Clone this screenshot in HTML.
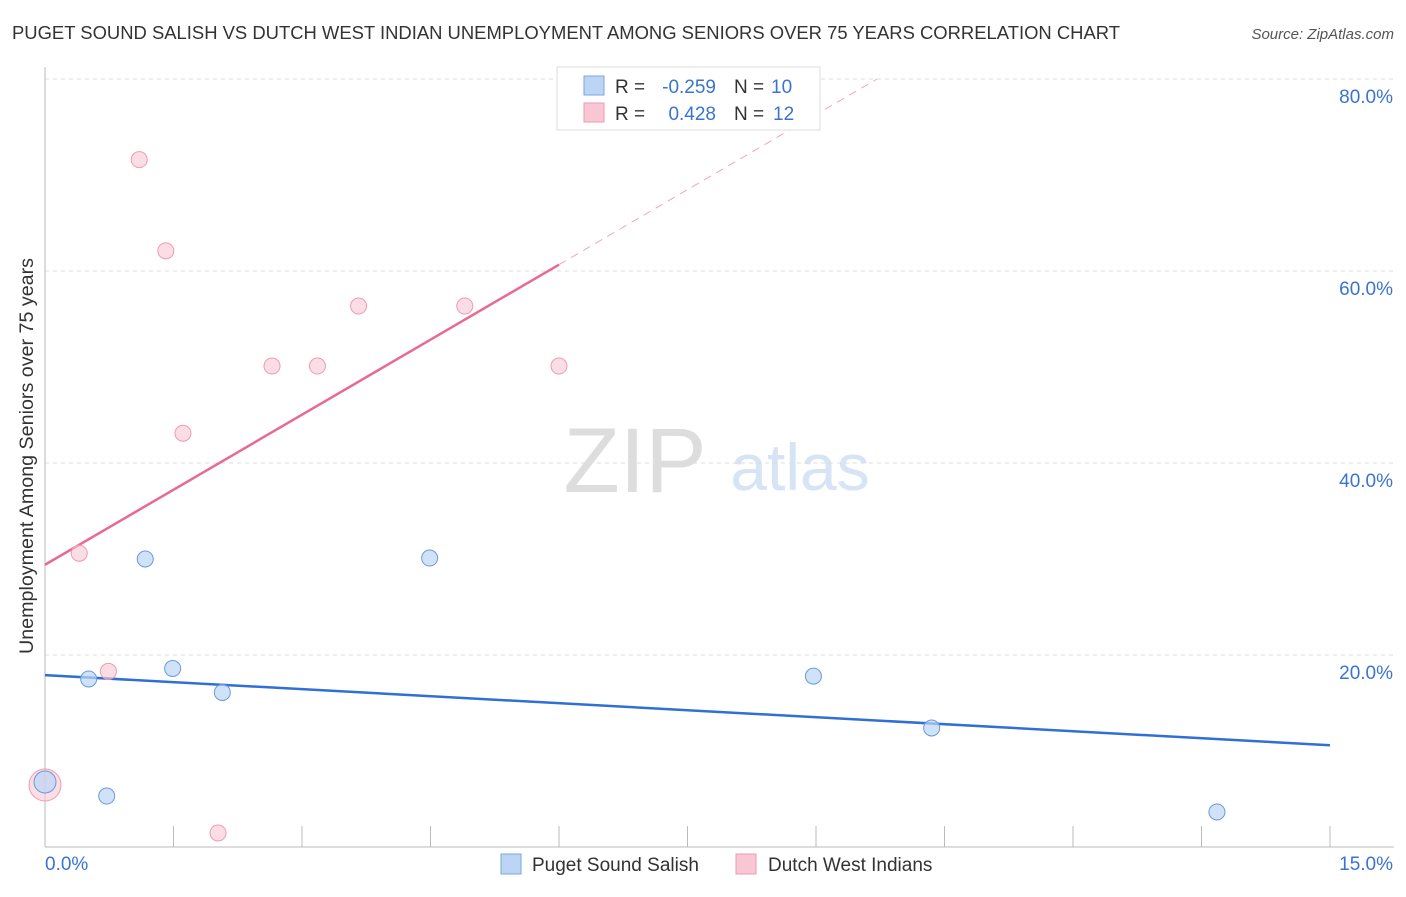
<!DOCTYPE html>
<html><head><meta charset="utf-8"><style>
body{margin:0;background:#fff;font-family:"Liberation Sans",sans-serif}
svg text{font-family:"Liberation Sans",sans-serif}
</style></head><body>
<svg id="c" width="1406" height="892">
<text x="12" y="39" font-size="18" fill="#333" textLength="1108" lengthAdjust="spacingAndGlyphs">PUGET SOUND SALISH VS DUTCH WEST INDIAN UNEMPLOYMENT AMONG SENIORS OVER 75 YEARS CORRELATION CHART</text>
<text x="1394" y="39" font-size="15" fill="#555" font-style="italic" text-anchor="end">Source: ZipAtlas.com</text>
<text transform="translate(33,456) rotate(-90)" font-size="19" fill="#333" text-anchor="middle" textLength="396" lengthAdjust="spacingAndGlyphs">Unemployment Among Seniors over 75 years</text>
<text x="635" y="492" font-size="92" fill="#ddd" font-family="Liberation Serif" text-anchor="middle">ZIP</text>
<text x="800" y="490" font-size="66" fill="#d6e4f5" text-anchor="middle">atlas</text>
<g id="grid"></g><g id="lines"></g><g id="pts"></g>
<g>
<rect x="557" y="67" width="263" height="63" fill="#fff" stroke="#ddd"/>
<rect x="584" y="76" width="20" height="19" fill="#bcd5f5" stroke="#7aa6e0"/>
<rect x="584" y="103" width="20" height="19" fill="#f9c6d4" stroke="#ee9ab3"/>
<text x="615" y="93" font-size="19" fill="#333">R =</text>
<text x="716" y="93" font-size="19" fill="#3a74d0" text-anchor="end">-0.259</text>
<text x="734" y="93" font-size="19" fill="#333">N =</text>
<text x="771" y="93" font-size="19" fill="#3a74d0">10</text>
<text x="615" y="120" font-size="19" fill="#333">R =</text>
<text x="716" y="120" font-size="19" fill="#3a74d0" text-anchor="end">0.428</text>
<text x="734" y="120" font-size="19" fill="#333">N =</text>
<text x="773" y="120" font-size="19" fill="#3a74d0">12</text>
</g>
<g>
<rect x="501" y="854" width="20" height="20" fill="#bcd5f5" stroke="#7aa6e0"/>
<text x="532" y="871" font-size="19" fill="#333">Puget Sound Salish</text>
<rect x="736" y="854" width="20" height="20" fill="#f9c6d4" stroke="#ee9ab3"/>
<text x="768" y="871" font-size="19" fill="#333">Dutch West Indians</text>
</g>
</svg>
<script>
const xTicks=[0,1.5,3,4.5,6,7.5,9,10.5,12,13.5,15];
const yTicks=[20,40,60,80];
const blueX=[0,0.51,0.72,1.17,1.49,2.07,4.49,8.97,10.35,13.68];
const blueY=[6.77,17.5,5.31,30.0,18.6,16.1,30.1,17.8,12.4,3.65];
const pinkX=[0,0.40,0.74,1.10,1.41,1.61,2.02,2.65,3.18,3.66,4.90,6.0];
const pinkY=[6.46,30.6,18.3,71.6,62.1,43.1,1.46,50.1,50.1,56.35,56.35,50.1];
const blueFit=[17.9,10.6];
const pinkFit=[29.4,5.21];
const NS="http://www.w3.org/2000/svg";
const X=v=>45+v/15*1285, Y=v=>847-v/20*192;
function mk(p,t,a){const e=document.createElementNS(NS,t);for(const k in a)e.setAttribute(k,a[k]);document.getElementById(p).appendChild(e);return e;}
yTicks.forEach(t=>{let l=mk('grid','line',{x1:45,x2:1394,y1:Y(t),y2:Y(t),stroke:'#ddd','stroke-dasharray':'4,4'});


let tx=mk('grid','text',{x:1393,y:Y(t)+24,'font-size':19,fill:'#3a74d0','text-anchor':'end'});tx.textContent=t.toFixed(1)+'%';

});
let ax=mk('grid','line',{x1:45,x2:1394,y1:847,y2:847,stroke:'#bbb'});


let ay=mk('grid','line',{x1:45,x2:45,y1:67,y2:847,stroke:'#bbb'});


xTicks.forEach(t=>{let l=mk('grid','line',{x1:X(t),x2:X(t),y1:826,y2:847,stroke:'#bbb'});

});
[[0,'start',45],[15,'end',1393]].forEach(([v,a,x])=>{let t=mk('grid','text',{x:x,y:870,'font-size':19,fill:'#3a74d0','text-anchor':a});t.textContent=v.toFixed(1)+'%';

});
let bl=mk('lines','line',{x1:X(0),y1:Y(blueFit[0]),x2:X(15),y2:Y(blueFit[1]),stroke:'#2f6fd6','stroke-width':2.5});


let pl=mk('lines','line',{x1:X(0),y1:Y(pinkFit[0]),x2:X(6),y2:Y(pinkFit[0]+pinkFit[1]*6),stroke:'#e86a94','stroke-width':2.5});


const xe=(80-pinkFit[0])/pinkFit[1];
let pd=mk('lines','line',{x1:X(6),y1:Y(pinkFit[0]+pinkFit[1]*6),x2:X(xe),y2:Y(80),stroke:'#f0a5bd','stroke-width':1,'stroke-dasharray':'8,6'});


pinkX.forEach((x,i)=>{let c=mk('pts','circle',{cx:X(x),cy:Y(pinkY[i]),r:i==0?16:8,fill:'rgba(249,198,212,0.6)',stroke:'#ee9ab3','stroke-width':1});

});
blueX.forEach((x,i)=>{let c=mk('pts','circle',{cx:X(x),cy:Y(blueY[i]),r:i==0?11:8,fill:'rgba(188,213,245,0.7)',stroke:'#6a9ad8','stroke-width':1});

});
</script>
</body></html>
